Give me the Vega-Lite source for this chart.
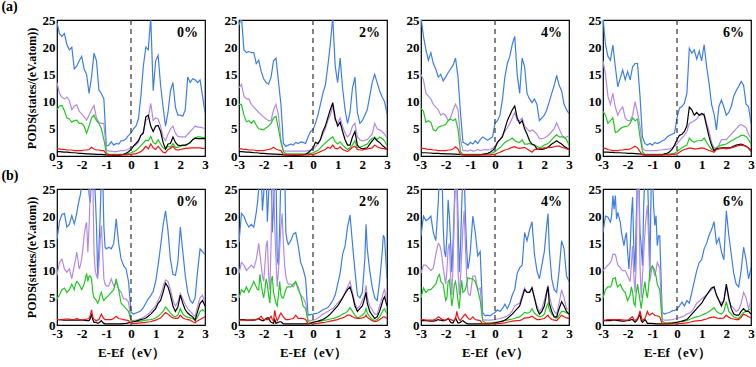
{
"$schema":"https://vega.github.io/schema/vega-lite/v6.json",
"padding":{"left":1,"right":2,"top":0,"bottom":2},
"spacing":-3,
"config":{"font":"Liberation Serif","view":{"stroke":"#000","strokeWidth":1.2},
"axis":{"domain":false,"ticks":false,"grid":false,"labelFont":"Liberation Serif","labelFontWeight":"bold","labelFontSize":13,"labelColor":"#000","labelPadding":2,"labelFlush":false,"labelOverlap":false,"titleFont":"Liberation Serif","titleFontWeight":"bold","titleFontSize":12,"titleColor":"#000"},
"axisY":{"titlePadding":4},"axisX":{"titlePadding":6,"titleFontSize":13}},
"datasets":{"d":[
{"p":"a0","x":-3.0,"b":24.5,"v":13.5,"g":8.5,"k":0.8,"r":1.3},
{"p":"a0","x":-2.9,"b":22.5,"v":11.5,"g":9.2,"k":0.8,"r":1.3},
{"p":"a0","x":-2.8,"b":22.0,"v":10.8,"g":9.3,"k":0.75,"r":1.2},
{"p":"a0","x":-2.7,"b":22.5,"v":10.5,"g":8.3,"k":0.7,"r":1.2},
{"p":"a0","x":-2.6,"b":20.5,"v":10.8,"g":7.0,"k":0.7,"r":1.1},
{"p":"a0","x":-2.5,"b":19.5,"v":10.2,"g":6.8,"k":0.65,"r":1.1},
{"p":"a0","x":-2.4,"b":20.0,"v":8.5,"g":6.2,"k":0.6,"r":1.1},
{"p":"a0","x":-2.3,"b":16.0,"v":9.2,"g":6.5,"k":0.6,"r":1.0},
{"p":"a0","x":-2.2,"b":16.5,"v":9.4,"g":6.6,"k":0.55,"r":1.0},
{"p":"a0","x":-2.1,"b":17.5,"v":8.2,"g":6.0,"k":0.5,"r":1.0},
{"p":"a0","x":-2.0,"b":18.3,"v":7.8,"g":6.0,"k":0.5,"r":1.0},
{"p":"a0","x":-1.9,"b":16.0,"v":7.2,"g":5.5,"k":0.45,"r":1.1},
{"p":"a0","x":-1.8,"b":15.0,"v":6.6,"g":4.2,"k":0.4,"r":1.1},
{"p":"a0","x":-1.7,"b":11.5,"v":7.5,"g":5.5,"k":0.4,"r":1.2},
{"p":"a0","x":-1.6,"b":14.5,"v":8.5,"g":7.0,"k":0.35,"r":1.6},
{"p":"a0","x":-1.5,"b":18.9,"v":9.3,"g":7.5,"k":0.35,"r":1.3},
{"p":"a0","x":-1.4,"b":17.5,"v":7.0,"g":6.5,"k":0.3,"r":1.1},
{"p":"a0","x":-1.3,"b":12.1,"v":6.2,"g":6.0,"k":0.3,"r":1.1},
{"p":"a0","x":-1.2,"b":11.5,"v":6.0,"g":5.0,"k":0.3,"r":1.0},
{"p":"a0","x":-1.1,"b":10.5,"v":6.0,"g":3.0,"k":0.25,"r":1.0},
{"p":"a0","x":-1.0,"b":1.8,"v":1.1,"g":0.6,"k":0.2,"r":0.3},
{"p":"a0","x":-0.9,"b":2.0,"v":0.9,"g":0.3,"k":0.15,"r":0.2},
{"p":"a0","x":-0.8,"b":2.6,"v":0.9,"g":0.3,"k":0.15,"r":0.2},
{"p":"a0","x":-0.7,"b":2.0,"v":0.8,"g":0.3,"k":0.1,"r":0.2},
{"p":"a0","x":-0.6,"b":2.3,"v":0.8,"g":0.3,"k":0.1,"r":0.2},
{"p":"a0","x":-0.5,"b":2.2,"v":0.9,"g":0.3,"k":0.1,"r":0.2},
{"p":"a0","x":-0.4,"b":2.8,"v":1.0,"g":0.3,"k":0.2,"r":0.2},
{"p":"a0","x":-0.3,"b":2.8,"v":1.0,"g":0.3,"k":0.3,"r":0.2},
{"p":"a0","x":-0.2,"b":3.2,"v":1.1,"g":0.4,"k":0.5,"r":0.2},
{"p":"a0","x":-0.1,"b":3.8,"v":1.3,"g":0.5,"k":0.8,"r":0.3},
{"p":"a0","x":0.0,"b":4.2,"v":1.5,"g":0.6,"k":1.2,"r":0.3},
{"p":"a0","x":0.1,"b":5.0,"v":1.8,"g":0.8,"k":1.8,"r":0.4},
{"p":"a0","x":0.2,"b":5.5,"v":2.0,"g":1.0,"k":2.3,"r":0.4},
{"p":"a0","x":0.3,"b":6.8,"v":2.5,"g":1.4,"k":2.8,"r":0.6},
{"p":"a0","x":0.4,"b":11.0,"v":3.8,"g":1.9,"k":3.8,"r":0.8},
{"p":"a0","x":0.5,"b":16.5,"v":4.5,"g":2.4,"k":4.2,"r":1.2},
{"p":"a0","x":0.6,"b":20.0,"v":6.5,"g":2.9,"k":7.2,"r":1.8},
{"p":"a0","x":0.7,"b":19.5,"v":7.0,"g":2.8,"k":7.5,"r":1.3},
{"p":"a0","x":0.8,"b":25.5,"v":9.7,"g":3.6,"k":5.5,"r":2.2},
{"p":"a0","x":0.9,"b":12.0,"v":6.5,"g":2.5,"k":4.5,"r":1.5},
{"p":"a0","x":1.0,"b":17.5,"v":7.0,"g":2.2,"k":5.5,"r":1.2},
{"p":"a0","x":1.1,"b":18.5,"v":6.8,"g":3.0,"k":5.6,"r":1.8},
{"p":"a0","x":1.2,"b":13.0,"v":5.5,"g":2.2,"k":4.5,"r":1.2},
{"p":"a0","x":1.3,"b":9.0,"v":3.5,"g":1.5,"k":2.5,"r":0.7},
{"p":"a0","x":1.4,"b":5.5,"v":2.8,"g":1.2,"k":1.3,"r":0.6},
{"p":"a0","x":1.5,"b":8.0,"v":4.0,"g":1.8,"k":2.2,"r":1.2},
{"p":"a0","x":1.6,"b":12.0,"v":5.0,"g":1.6,"k":2.3,"r":1.4},
{"p":"a0","x":1.7,"b":13.5,"v":5.5,"g":2.3,"k":3.5,"r":1.8},
{"p":"a0","x":1.8,"b":9.0,"v":4.2,"g":1.6,"k":2.5,"r":1.2},
{"p":"a0","x":1.9,"b":7.5,"v":3.6,"g":1.6,"k":2.0,"r":1.1},
{"p":"a0","x":2.0,"b":7.5,"v":3.5,"g":1.8,"k":1.9,"r":1.2},
{"p":"a0","x":2.1,"b":7.3,"v":3.5,"g":1.9,"k":2.0,"r":1.3},
{"p":"a0","x":2.2,"b":8.5,"v":3.5,"g":1.9,"k":2.0,"r":1.4},
{"p":"a0","x":2.3,"b":14.5,"v":4.0,"g":2.2,"k":2.2,"r":1.4},
{"p":"a0","x":2.4,"b":13.5,"v":4.5,"g":2.4,"k":2.5,"r":1.5},
{"p":"a0","x":2.5,"b":14.2,"v":5.0,"g":3.0,"k":3.0,"r":1.5},
{"p":"a0","x":2.6,"b":14.0,"v":5.5,"g":3.3,"k":3.3,"r":1.5},
{"p":"a0","x":2.7,"b":13.5,"v":5.3,"g":3.5,"k":3.2,"r":1.5},
{"p":"a0","x":2.8,"b":14.0,"v":5.3,"g":3.5,"k":3.2,"r":1.5},
{"p":"a0","x":2.9,"b":11.0,"v":5.2,"g":3.4,"k":3.2,"r":1.4},
{"p":"a0","x":3.0,"b":8.0,"v":5.0,"g":3.4,"k":3.2,"r":1.4},
{"p":"a2","x":-3.0,"b":24.0,"v":12.5,"g":9.5,"k":0.8,"r":1.3},
{"p":"a2","x":-2.9,"b":25.5,"v":13.2,"g":9.5,"k":0.8,"r":1.3},
{"p":"a2","x":-2.8,"b":19.5,"v":11.0,"g":7.5,"k":0.75,"r":1.2},
{"p":"a2","x":-2.7,"b":19.0,"v":10.5,"g":6.3,"k":0.7,"r":1.2},
{"p":"a2","x":-2.6,"b":19.2,"v":10.5,"g":6.5,"k":0.7,"r":1.1},
{"p":"a2","x":-2.5,"b":19.0,"v":9.5,"g":6.0,"k":0.65,"r":1.1},
{"p":"a2","x":-2.4,"b":19.0,"v":9.0,"g":6.5,"k":0.6,"r":1.1},
{"p":"a2","x":-2.3,"b":17.0,"v":8.5,"g":5.7,"k":0.6,"r":1.0},
{"p":"a2","x":-2.2,"b":17.6,"v":8.0,"g":5.0,"k":0.55,"r":1.0},
{"p":"a2","x":-2.1,"b":15.5,"v":7.6,"g":4.9,"k":0.5,"r":1.0},
{"p":"a2","x":-2.0,"b":14.2,"v":7.2,"g":4.8,"k":0.5,"r":1.0},
{"p":"a2","x":-1.9,"b":13.5,"v":6.8,"g":5.2,"k":0.45,"r":1.1},
{"p":"a2","x":-1.8,"b":13.2,"v":6.5,"g":5.5,"k":0.4,"r":1.2},
{"p":"a2","x":-1.7,"b":14.5,"v":6.5,"g":6.0,"k":0.4,"r":1.3},
{"p":"a2","x":-1.6,"b":17.5,"v":8.5,"g":7.0,"k":0.35,"r":1.6},
{"p":"a2","x":-1.5,"b":18.0,"v":9.5,"g":7.3,"k":0.35,"r":1.3},
{"p":"a2","x":-1.4,"b":13.7,"v":7.5,"g":5.0,"k":0.3,"r":1.1},
{"p":"a2","x":-1.3,"b":9.5,"v":3.0,"g":2.5,"k":0.3,"r":1.0},
{"p":"a2","x":-1.2,"b":2.3,"v":1.0,"g":0.8,"k":0.2,"r":0.3},
{"p":"a2","x":-1.1,"b":1.8,"v":0.9,"g":0.4,"k":0.2,"r":0.2},
{"p":"a2","x":-1.0,"b":2.0,"v":0.9,"g":0.4,"k":0.15,"r":0.2},
{"p":"a2","x":-0.9,"b":2.2,"v":0.9,"g":0.4,"k":0.15,"r":0.2},
{"p":"a2","x":-0.8,"b":2.0,"v":0.9,"g":0.4,"k":0.1,"r":0.2},
{"p":"a2","x":-0.7,"b":2.5,"v":0.9,"g":0.4,"k":0.1,"r":0.2},
{"p":"a2","x":-0.6,"b":2.3,"v":0.9,"g":0.4,"k":0.1,"r":0.2},
{"p":"a2","x":-0.5,"b":2.6,"v":0.9,"g":0.4,"k":0.15,"r":0.2},
{"p":"a2","x":-0.4,"b":2.5,"v":0.9,"g":0.4,"k":0.2,"r":0.2},
{"p":"a2","x":-0.3,"b":2.3,"v":0.9,"g":0.4,"k":0.3,"r":0.2},
{"p":"a2","x":-0.2,"b":3.5,"v":1.0,"g":0.5,"k":0.6,"r":0.2},
{"p":"a2","x":-0.1,"b":4.5,"v":1.1,"g":0.5,"k":1.0,"r":0.3},
{"p":"a2","x":0.0,"b":4.8,"v":1.2,"g":0.6,"k":1.5,"r":0.3},
{"p":"a2","x":0.1,"b":6.0,"v":1.7,"g":0.8,"k":2.5,"r":0.4},
{"p":"a2","x":0.2,"b":7.5,"v":2.2,"g":1.0,"k":2.3,"r":0.6},
{"p":"a2","x":0.3,"b":9.5,"v":3.0,"g":1.5,"k":3.0,"r":0.8},
{"p":"a2","x":0.4,"b":11.5,"v":4.0,"g":2.0,"k":4.5,"r":1.0},
{"p":"a2","x":0.5,"b":13.0,"v":5.0,"g":2.4,"k":5.5,"r":1.2},
{"p":"a2","x":0.6,"b":16.5,"v":6.5,"g":2.8,"k":7.0,"r":1.6},
{"p":"a2","x":0.7,"b":20.5,"v":7.5,"g":3.2,"k":8.5,"r":1.4},
{"p":"a2","x":0.8,"b":25.5,"v":9.2,"g":3.5,"k":9.8,"r":2.0},
{"p":"a2","x":0.9,"b":16.5,"v":6.5,"g":2.6,"k":7.0,"r":1.4},
{"p":"a2","x":1.0,"b":13.5,"v":6.0,"g":2.2,"k":5.5,"r":1.3},
{"p":"a2","x":1.1,"b":18.0,"v":7.0,"g":2.6,"k":6.2,"r":1.7},
{"p":"a2","x":1.2,"b":12.5,"v":5.5,"g":2.0,"k":4.5,"r":1.2},
{"p":"a2","x":1.3,"b":8.5,"v":4.2,"g":1.6,"k":3.0,"r":1.0},
{"p":"a2","x":1.4,"b":6.0,"v":3.5,"g":1.2,"k":2.0,"r":0.8},
{"p":"a2","x":1.5,"b":8.0,"v":4.0,"g":1.5,"k":2.0,"r":1.2},
{"p":"a2","x":1.6,"b":12.5,"v":5.5,"g":2.0,"k":3.5,"r":1.6},
{"p":"a2","x":1.7,"b":14.5,"v":6.0,"g":2.8,"k":4.5,"r":1.8},
{"p":"a2","x":1.8,"b":8.0,"v":3.5,"g":1.5,"k":2.0,"r":1.2},
{"p":"a2","x":1.9,"b":6.0,"v":3.0,"g":1.6,"k":1.5,"r":1.1},
{"p":"a2","x":2.0,"b":6.5,"v":2.8,"g":1.8,"k":1.3,"r":1.1},
{"p":"a2","x":2.1,"b":7.5,"v":2.9,"g":2.0,"k":1.4,"r":1.2},
{"p":"a2","x":2.2,"b":8.5,"v":3.0,"g":2.2,"k":1.5,"r":1.3},
{"p":"a2","x":2.3,"b":11.0,"v":3.5,"g":2.8,"k":2.2,"r":1.4},
{"p":"a2","x":2.4,"b":13.5,"v":4.0,"g":3.2,"k":2.8,"r":1.5},
{"p":"a2","x":2.5,"b":15.0,"v":6.0,"g":3.5,"k":3.3,"r":2.0},
{"p":"a2","x":2.6,"b":13.5,"v":5.0,"g":3.0,"k":2.8,"r":1.7},
{"p":"a2","x":2.7,"b":12.0,"v":4.8,"g":3.5,"k":2.5,"r":1.5},
{"p":"a2","x":2.8,"b":10.9,"v":4.5,"g":3.2,"k":2.0,"r":1.4},
{"p":"a2","x":2.9,"b":10.0,"v":4.0,"g":2.8,"k":1.6,"r":1.3},
{"p":"a2","x":3.0,"b":7.8,"v":3.3,"g":2.0,"k":1.2,"r":1.2},
{"p":"a4","x":-3.0,"b":25.5,"v":15.0,"g":8.8,"k":0.6,"r":1.4},
{"p":"a4","x":-2.9,"b":22.0,"v":14.0,"g":8.2,"k":0.6,"r":1.4},
{"p":"a4","x":-2.8,"b":19.5,"v":11.5,"g":6.2,"k":0.6,"r":1.3},
{"p":"a4","x":-2.7,"b":17.6,"v":11.0,"g":6.5,"k":0.55,"r":1.2},
{"p":"a4","x":-2.6,"b":19.0,"v":10.5,"g":6.2,"k":0.55,"r":1.2},
{"p":"a4","x":-2.5,"b":17.0,"v":9.5,"g":4.8,"k":0.5,"r":1.1},
{"p":"a4","x":-2.4,"b":16.0,"v":9.0,"g":4.6,"k":0.5,"r":1.1},
{"p":"a4","x":-2.3,"b":14.5,"v":8.5,"g":5.3,"k":0.5,"r":1.0},
{"p":"a4","x":-2.2,"b":15.0,"v":7.5,"g":5.5,"k":0.45,"r":1.0},
{"p":"a4","x":-2.1,"b":13.8,"v":7.8,"g":5.6,"k":0.45,"r":1.0},
{"p":"a4","x":-2.0,"b":14.5,"v":7.5,"g":5.8,"k":0.4,"r":1.0},
{"p":"a4","x":-1.9,"b":15.3,"v":6.5,"g":6.5,"k":0.4,"r":1.1},
{"p":"a4","x":-1.8,"b":16.0,"v":7.0,"g":6.8,"k":0.4,"r":1.1},
{"p":"a4","x":-1.7,"b":16.7,"v":8.5,"g":6.5,"k":0.35,"r":1.3},
{"p":"a4","x":-1.6,"b":18.0,"v":9.5,"g":6.8,"k":0.35,"r":1.7},
{"p":"a4","x":-1.5,"b":14.5,"v":8.5,"g":5.0,"k":0.3,"r":1.3},
{"p":"a4","x":-1.4,"b":8.0,"v":3.0,"g":0.8,"k":0.3,"r":0.3},
{"p":"a4","x":-1.3,"b":2.5,"v":1.0,"g":0.3,"k":0.25,"r":0.2},
{"p":"a4","x":-1.2,"b":2.3,"v":1.0,"g":0.3,"k":0.2,"r":0.2},
{"p":"a4","x":-1.1,"b":2.0,"v":0.9,"g":0.3,"k":0.2,"r":0.2},
{"p":"a4","x":-1.0,"b":2.5,"v":1.1,"g":0.3,"k":0.2,"r":0.2},
{"p":"a4","x":-0.9,"b":2.2,"v":0.9,"g":0.3,"k":0.2,"r":0.2},
{"p":"a4","x":-0.8,"b":2.8,"v":1.0,"g":0.3,"k":0.2,"r":0.2},
{"p":"a4","x":-0.7,"b":2.3,"v":1.2,"g":0.3,"k":0.2,"r":0.2},
{"p":"a4","x":-0.6,"b":3.0,"v":1.0,"g":0.3,"k":0.2,"r":0.2},
{"p":"a4","x":-0.5,"b":3.5,"v":1.1,"g":0.3,"k":0.3,"r":0.2},
{"p":"a4","x":-0.4,"b":3.2,"v":1.2,"g":0.3,"k":0.4,"r":0.2},
{"p":"a4","x":-0.3,"b":2.9,"v":1.1,"g":0.4,"k":0.5,"r":0.2},
{"p":"a4","x":-0.2,"b":3.2,"v":1.2,"g":0.5,"k":0.7,"r":0.2},
{"p":"a4","x":-0.1,"b":3.5,"v":1.4,"g":0.6,"k":1.0,"r":0.3},
{"p":"a4","x":0.0,"b":6.0,"v":1.8,"g":0.8,"k":1.5,"r":0.3},
{"p":"a4","x":0.1,"b":6.5,"v":2.5,"g":1.2,"k":2.5,"r":0.5},
{"p":"a4","x":0.2,"b":7.5,"v":3.0,"g":1.5,"k":3.0,"r":0.7},
{"p":"a4","x":0.3,"b":10.3,"v":3.8,"g":2.0,"k":3.5,"r":0.9},
{"p":"a4","x":0.4,"b":14.5,"v":4.5,"g":2.5,"k":5.0,"r":1.1},
{"p":"a4","x":0.5,"b":17.0,"v":5.2,"g":2.8,"k":6.5,"r":1.2},
{"p":"a4","x":0.6,"b":18.3,"v":6.0,"g":3.0,"k":7.5,"r":1.4},
{"p":"a4","x":0.7,"b":20.5,"v":7.0,"g":3.3,"k":8.5,"r":1.6},
{"p":"a4","x":0.8,"b":22.0,"v":8.0,"g":2.8,"k":9.2,"r":1.7},
{"p":"a4","x":0.9,"b":15.0,"v":6.5,"g":2.6,"k":7.0,"r":1.5},
{"p":"a4","x":1.0,"b":11.5,"v":6.5,"g":2.5,"k":6.0,"r":1.4},
{"p":"a4","x":1.1,"b":18.0,"v":7.0,"g":3.0,"k":6.5,"r":1.5},
{"p":"a4","x":1.2,"b":16.4,"v":5.5,"g":2.2,"k":5.0,"r":1.6},
{"p":"a4","x":1.3,"b":11.5,"v":5.0,"g":2.2,"k":4.0,"r":1.3},
{"p":"a4","x":1.4,"b":10.5,"v":4.5,"g":2.3,"k":2.8,"r":1.0},
{"p":"a4","x":1.5,"b":9.8,"v":4.8,"g":2.1,"k":2.2,"r":0.7},
{"p":"a4","x":1.6,"b":10.5,"v":4.5,"g":2.0,"k":2.0,"r":1.2},
{"p":"a4","x":1.7,"b":9.5,"v":4.0,"g":1.8,"k":1.3,"r":1.2},
{"p":"a4","x":1.8,"b":6.5,"v":3.2,"g":1.5,"k":1.2,"r":1.3},
{"p":"a4","x":1.9,"b":7.0,"v":3.2,"g":1.7,"k":1.2,"r":1.4},
{"p":"a4","x":2.0,"b":7.5,"v":3.3,"g":2.0,"k":1.3,"r":1.5},
{"p":"a4","x":2.1,"b":8.5,"v":3.6,"g":2.2,"k":1.5,"r":1.5},
{"p":"a4","x":2.2,"b":10.0,"v":4.0,"g":2.5,"k":1.8,"r":1.6},
{"p":"a4","x":2.3,"b":11.5,"v":4.5,"g":3.0,"k":2.2,"r":1.6},
{"p":"a4","x":2.4,"b":13.0,"v":5.0,"g":3.5,"k":2.5,"r":1.7},
{"p":"a4","x":2.5,"b":14.8,"v":6.1,"g":3.9,"k":2.8,"r":1.8},
{"p":"a4","x":2.6,"b":13.0,"v":5.0,"g":3.5,"k":2.5,"r":1.8},
{"p":"a4","x":2.7,"b":12.0,"v":4.0,"g":3.5,"k":2.2,"r":1.6},
{"p":"a4","x":2.8,"b":9.5,"v":3.3,"g":3.5,"k":1.8,"r":1.5},
{"p":"a4","x":2.9,"b":8.5,"v":3.5,"g":3.0,"k":1.5,"r":1.3},
{"p":"a4","x":3.0,"b":7.8,"v":3.7,"g":2.0,"k":1.2,"r":1.2},
{"p":"a6","x":-3.0,"b":25.5,"v":17.5,"g":8.2,"k":0.7,"r":1.5},
{"p":"a6","x":-2.9,"b":20.5,"v":15.0,"g":7.5,"k":0.7,"r":1.4},
{"p":"a6","x":-2.8,"b":18.3,"v":11.0,"g":6.0,"k":0.7,"r":1.2},
{"p":"a6","x":-2.7,"b":17.6,"v":9.5,"g":6.5,"k":0.65,"r":1.1},
{"p":"a6","x":-2.6,"b":20.4,"v":11.5,"g":7.0,"k":0.65,"r":1.0},
{"p":"a6","x":-2.5,"b":16.4,"v":9.0,"g":4.3,"k":0.6,"r":1.0},
{"p":"a6","x":-2.4,"b":12.7,"v":7.5,"g":4.5,"k":0.6,"r":1.0},
{"p":"a6","x":-2.3,"b":14.3,"v":8.5,"g":5.0,"k":0.6,"r":1.1},
{"p":"a6","x":-2.2,"b":15.8,"v":9.0,"g":5.3,"k":0.55,"r":1.1},
{"p":"a6","x":-2.1,"b":14.0,"v":7.0,"g":5.4,"k":0.55,"r":1.2},
{"p":"a6","x":-2.0,"b":15.5,"v":6.5,"g":5.5,"k":0.5,"r":1.2},
{"p":"a6","x":-1.9,"b":14.0,"v":6.5,"g":6.0,"k":0.5,"r":1.3},
{"p":"a6","x":-1.8,"b":16.4,"v":7.5,"g":7.0,"k":0.5,"r":1.5},
{"p":"a6","x":-1.7,"b":17.0,"v":10.0,"g":6.5,"k":0.45,"r":1.8},
{"p":"a6","x":-1.6,"b":17.0,"v":8.0,"g":6.8,"k":0.4,"r":1.5},
{"p":"a6","x":-1.5,"b":11.0,"v":5.5,"g":3.5,"k":0.4,"r":0.8},
{"p":"a6","x":-1.4,"b":3.5,"v":1.5,"g":0.8,"k":0.3,"r":0.2},
{"p":"a6","x":-1.3,"b":2.3,"v":1.0,"g":0.3,"k":0.2,"r":0.2},
{"p":"a6","x":-1.2,"b":2.0,"v":1.0,"g":0.3,"k":0.2,"r":0.2},
{"p":"a6","x":-1.1,"b":2.3,"v":1.0,"g":0.3,"k":0.2,"r":0.2},
{"p":"a6","x":-1.0,"b":2.0,"v":1.0,"g":0.3,"k":0.2,"r":0.2},
{"p":"a6","x":-0.9,"b":2.5,"v":1.0,"g":0.3,"k":0.2,"r":0.2},
{"p":"a6","x":-0.8,"b":2.3,"v":1.0,"g":0.3,"k":0.2,"r":0.2},
{"p":"a6","x":-0.7,"b":2.5,"v":1.1,"g":0.3,"k":0.2,"r":0.2},
{"p":"a6","x":-0.6,"b":2.8,"v":1.1,"g":0.3,"k":0.2,"r":0.2},
{"p":"a6","x":-0.5,"b":3.0,"v":1.2,"g":0.3,"k":0.4,"r":0.2},
{"p":"a6","x":-0.4,"b":3.5,"v":1.2,"g":0.3,"k":0.5,"r":0.2},
{"p":"a6","x":-0.3,"b":3.8,"v":1.3,"g":0.4,"k":0.8,"r":0.2},
{"p":"a6","x":-0.2,"b":4.0,"v":1.5,"g":0.4,"k":1.2,"r":0.3},
{"p":"a6","x":-0.1,"b":4.2,"v":1.8,"g":0.5,"k":2.0,"r":0.3},
{"p":"a6","x":0.0,"b":7.0,"v":2.2,"g":0.8,"k":3.0,"r":0.4},
{"p":"a6","x":0.1,"b":8.8,"v":2.8,"g":1.2,"k":3.8,"r":0.7},
{"p":"a6","x":0.2,"b":9.1,"v":3.3,"g":1.5,"k":4.0,"r":1.0},
{"p":"a6","x":0.3,"b":9.7,"v":3.8,"g":1.8,"k":4.5,"r":1.2},
{"p":"a6","x":0.4,"b":11.5,"v":4.5,"g":2.0,"k":5.5,"r":1.3},
{"p":"a6","x":0.5,"b":19.8,"v":6.0,"g":3.3,"k":9.0,"r":1.5},
{"p":"a6","x":0.6,"b":18.9,"v":6.2,"g":2.8,"k":8.5,"r":1.4},
{"p":"a6","x":0.7,"b":19.5,"v":6.5,"g":2.5,"k":7.5,"r":1.3},
{"p":"a6","x":0.8,"b":17.8,"v":6.8,"g":2.8,"k":8.0,"r":1.3},
{"p":"a6","x":0.9,"b":19.3,"v":7.5,"g":2.8,"k":7.5,"r":1.4},
{"p":"a6","x":1.0,"b":17.5,"v":7.5,"g":2.8,"k":7.8,"r":1.5},
{"p":"a6","x":1.1,"b":20.5,"v":7.8,"g":3.3,"k":7.5,"r":1.4},
{"p":"a6","x":1.2,"b":16.4,"v":6.0,"g":2.5,"k":5.5,"r":1.2},
{"p":"a6","x":1.3,"b":13.4,"v":4.5,"g":1.8,"k":3.5,"r":1.0},
{"p":"a6","x":1.4,"b":9.5,"v":2.5,"g":1.2,"k":2.0,"r":0.9},
{"p":"a6","x":1.5,"b":7.8,"v":1.5,"g":1.0,"k":1.0,"r":0.7},
{"p":"a6","x":1.6,"b":4.8,"v":1.5,"g":1.5,"k":1.3,"r":1.2},
{"p":"a6","x":1.7,"b":9.1,"v":2.0,"g":1.8,"k":1.4,"r":1.3},
{"p":"a6","x":1.8,"b":10.3,"v":3.0,"g":2.0,"k":1.5,"r":1.4},
{"p":"a6","x":1.9,"b":9.0,"v":3.0,"g":2.1,"k":1.5,"r":1.4},
{"p":"a6","x":2.0,"b":7.5,"v":3.0,"g":2.2,"k":1.5,"r":1.3},
{"p":"a6","x":2.1,"b":8.0,"v":3.5,"g":2.5,"k":1.5,"r":1.4},
{"p":"a6","x":2.2,"b":9.1,"v":4.0,"g":2.8,"k":1.6,"r":1.5},
{"p":"a6","x":2.3,"b":11.0,"v":4.5,"g":3.0,"k":1.8,"r":1.6},
{"p":"a6","x":2.4,"b":12.0,"v":5.0,"g":3.3,"k":2.0,"r":1.8},
{"p":"a6","x":2.5,"b":12.8,"v":5.5,"g":3.5,"k":2.1,"r":1.9},
{"p":"a6","x":2.6,"b":13.7,"v":5.8,"g":3.8,"k":2.2,"r":2.0},
{"p":"a6","x":2.7,"b":13.0,"v":5.5,"g":3.8,"k":2.0,"r":1.9},
{"p":"a6","x":2.8,"b":9.5,"v":5.2,"g":3.6,"k":1.8,"r":1.8},
{"p":"a6","x":2.9,"b":9.1,"v":4.0,"g":3.0,"k":1.5,"r":1.4},
{"p":"a6","x":3.0,"b":6.0,"v":3.2,"g":2.2,"k":1.0,"r":0.8},
{"p":"b0","x":-3.0,"b":15.8,"v":9.1,"g":4.8,"k":1.0,"r":1.0},
{"p":"b0","x":-2.9,"b":19.0,"v":11.5,"g":5.5,"k":1.0,"r":1.0},
{"p":"b0","x":-2.8,"b":20.3,"v":12.1,"g":6.5,"k":0.95,"r":1.0},
{"p":"b0","x":-2.7,"b":20.5,"v":10.3,"g":6.8,"k":0.9,"r":1.1},
{"p":"b0","x":-2.6,"b":18.0,"v":9.7,"g":6.0,"k":0.9,"r":1.1},
{"p":"b0","x":-2.5,"b":18.5,"v":10.3,"g":6.5,"k":0.9,"r":1.1},
{"p":"b0","x":-2.4,"b":20.1,"v":8.5,"g":7.5,"k":0.9,"r":1.0},
{"p":"b0","x":-2.3,"b":18.6,"v":10.9,"g":6.5,"k":0.9,"r":1.0},
{"p":"b0","x":-2.25,"b":19.5,"v":12.0,"g":7.5,"k":0.9,"r":1.1},
{"p":"b0","x":-2.2,"b":20.5,"v":13.4,"g":8.0,"k":0.9,"r":1.2},
{"p":"b0","x":-2.15,"b":21.9,"v":12.0,"g":7.8,"k":0.9,"r":1.1},
{"p":"b0","x":-2.1,"b":23.0,"v":10.3,"g":7.5,"k":0.9,"r":1.0},
{"p":"b0","x":-2.05,"b":24.0,"v":11.0,"g":7.0,"k":0.9,"r":1.0},
{"p":"b0","x":-2.0,"b":25.5,"v":12.1,"g":6.5,"k":0.9,"r":0.9},
{"p":"b0","x":-1.95,"b":28,"v":14.0,"g":7.0,"k":0.9,"r":0.9},
{"p":"b0","x":-1.9,"b":28,"v":16.4,"g":7.5,"k":0.85,"r":1.0},
{"p":"b0","x":-1.85,"b":28,"v":18.0,"g":8.5,"k":0.85,"r":1.0},
{"p":"b0","x":-1.8,"b":28,"v":18.9,"g":9.5,"k":0.8,"r":1.1},
{"p":"b0","x":-1.75,"b":28,"v":13.4,"g":8.0,"k":0.8,"r":1.1},
{"p":"b0","x":-1.7,"b":24.0,"v":18.0,"g":9.0,"k":0.8,"r":1.2},
{"p":"b0","x":-1.65,"b":22.5,"v":25.0,"g":9.0,"k":1.2,"r":1.8},
{"p":"b0","x":-1.6,"b":28,"v":28,"g":8.5,"k":2.0,"r":2.8},
{"p":"b0","x":-1.55,"b":28,"v":28,"g":6.0,"k":1.0,"r":1.5},
{"p":"b0","x":-1.5,"b":28,"v":13.4,"g":5.0,"k":0.5,"r":1.0},
{"p":"b0","x":-1.45,"b":24.0,"v":10.0,"g":4.8,"k":0.5,"r":0.9},
{"p":"b0","x":-1.4,"b":18.3,"v":9.1,"g":4.5,"k":0.5,"r":0.8},
{"p":"b0","x":-1.35,"b":9.1,"v":8.5,"g":4.0,"k":0.3,"r":0.9},
{"p":"b0","x":-1.3,"b":14.0,"v":11.0,"g":4.5,"k":0.4,"r":1.0},
{"p":"b0","x":-1.25,"b":20.0,"v":15.5,"g":5.5,"k":0.6,"r":1.5},
{"p":"b0","x":-1.2,"b":28,"v":18.3,"g":6.0,"k":0.8,"r":2.0},
{"p":"b0","x":-1.15,"b":28,"v":13.4,"g":5.0,"k":0.5,"r":1.5},
{"p":"b0","x":-1.1,"b":18.0,"v":8.5,"g":4.5,"k":0.3,"r":1.2},
{"p":"b0","x":-1.05,"b":14.3,"v":7.5,"g":4.8,"k":0.2,"r":1.0},
{"p":"b0","x":-1.0,"b":14.0,"v":7.2,"g":5.0,"k":0.2,"r":1.0},
{"p":"b0","x":-0.9,"b":14.3,"v":7.2,"g":5.5,"k":0.2,"r":1.0},
{"p":"b0","x":-0.8,"b":14.0,"v":8.5,"g":6.0,"k":0.2,"r":1.0},
{"p":"b0","x":-0.7,"b":15.0,"v":7.2,"g":6.5,"k":0.2,"r":1.2},
{"p":"b0","x":-0.6,"b":19.5,"v":7.8,"g":8.5,"k":0.2,"r":1.6},
{"p":"b0","x":-0.5,"b":15.0,"v":6.6,"g":6.5,"k":0.2,"r":1.2},
{"p":"b0","x":-0.4,"b":12.1,"v":6.0,"g":4.0,"k":0.2,"r":1.1},
{"p":"b0","x":-0.3,"b":10.9,"v":4.8,"g":3.5,"k":0.25,"r":1.0},
{"p":"b0","x":-0.2,"b":10.3,"v":4.8,"g":3.0,"k":0.3,"r":0.9},
{"p":"b0","x":-0.1,"b":8.0,"v":4.2,"g":2.5,"k":0.4,"r":0.8},
{"p":"b0","x":0.0,"b":2.3,"v":0.8,"g":0.8,"k":0.5,"r":0.3},
{"p":"b0","x":0.1,"b":2.0,"v":0.85,"g":0.7,"k":0.6,"r":0.3},
{"p":"b0","x":0.2,"b":2.2,"v":0.9,"g":0.6,"k":0.7,"r":0.3},
{"p":"b0","x":0.3,"b":2.4,"v":1.0,"g":0.65,"k":0.85,"r":0.35},
{"p":"b0","x":0.4,"b":2.6,"v":1.2,"g":0.7,"k":1.0,"r":0.4},
{"p":"b0","x":0.5,"b":3.2,"v":1.4,"g":0.8,"k":1.1,"r":0.45},
{"p":"b0","x":0.6,"b":4.0,"v":1.7,"g":0.9,"k":1.3,"r":0.5},
{"p":"b0","x":0.7,"b":4.8,"v":2.0,"g":0.95,"k":1.6,"r":0.55},
{"p":"b0","x":0.8,"b":5.4,"v":2.5,"g":1.0,"k":2.0,"r":0.6},
{"p":"b0","x":0.9,"b":6.2,"v":3.0,"g":1.1,"k":2.5,"r":0.75},
{"p":"b0","x":1.0,"b":8.0,"v":3.5,"g":1.3,"k":3.0,"r":0.9},
{"p":"b0","x":1.1,"b":11.0,"v":4.5,"g":1.6,"k":4.0,"r":1.1},
{"p":"b0","x":1.2,"b":14.5,"v":5.5,"g":2.0,"k":4.5,"r":1.3},
{"p":"b0","x":1.3,"b":18.3,"v":7.0,"g":2.5,"k":6.0,"r":1.8},
{"p":"b0","x":1.4,"b":21.0,"v":8.3,"g":3.3,"k":7.7,"r":2.3},
{"p":"b0","x":1.5,"b":17.3,"v":8.0,"g":2.8,"k":7.0,"r":2.0},
{"p":"b0","x":1.6,"b":12.0,"v":6.5,"g":2.2,"k":5.5,"r":1.6},
{"p":"b0","x":1.7,"b":9.3,"v":4.5,"g":1.7,"k":3.5,"r":1.3},
{"p":"b0","x":1.8,"b":9.1,"v":3.5,"g":1.5,"k":2.5,"r":1.2},
{"p":"b0","x":1.9,"b":11.5,"v":4.2,"g":1.8,"k":3.3,"r":1.2},
{"p":"b0","x":2.0,"b":18.0,"v":5.8,"g":3.0,"k":5.5,"r":1.8},
{"p":"b0","x":2.1,"b":13.5,"v":4.8,"g":2.0,"k":4.0,"r":1.3},
{"p":"b0","x":2.2,"b":9.1,"v":3.8,"g":1.6,"k":2.8,"r":1.1},
{"p":"b0","x":2.3,"b":6.0,"v":3.0,"g":1.4,"k":2.2,"r":1.0},
{"p":"b0","x":2.4,"b":4.5,"v":2.5,"g":1.3,"k":1.8,"r":0.9},
{"p":"b0","x":2.5,"b":4.0,"v":2.0,"g":1.2,"k":1.5,"r":0.6},
{"p":"b0","x":2.6,"b":5.0,"v":1.5,"g":0.8,"k":0.9,"r":0.4},
{"p":"b0","x":2.7,"b":10.0,"v":3.5,"g":1.5,"k":2.5,"r":0.8},
{"p":"b0","x":2.8,"b":14.0,"v":5.0,"g":2.5,"k":4.0,"r":1.0},
{"p":"b0","x":2.9,"b":13.5,"v":5.5,"g":2.8,"k":4.5,"r":1.3},
{"p":"b0","x":3.0,"b":13.0,"v":4.0,"g":2.5,"k":3.5,"r":1.5},
{"p":"b2","x":-3.0,"b":15.2,"v":9.5,"g":5.0,"k":1.0,"r":0.9},
{"p":"b2","x":-2.9,"b":20.5,"v":11.5,"g":6.5,"k":1.0,"r":0.9},
{"p":"b2","x":-2.8,"b":20.0,"v":11.0,"g":6.0,"k":1.0,"r":0.9},
{"p":"b2","x":-2.7,"b":18.8,"v":10.0,"g":7.0,"k":0.9,"r":0.9},
{"p":"b2","x":-2.6,"b":18.0,"v":10.5,"g":6.0,"k":0.9,"r":0.9},
{"p":"b2","x":-2.5,"b":18.5,"v":11.0,"g":7.0,"k":0.9,"r":0.9},
{"p":"b2","x":-2.4,"b":18.0,"v":10.5,"g":8.0,"k":0.9,"r":1.0},
{"p":"b2","x":-2.3,"b":20.7,"v":12.0,"g":7.0,"k":1.0,"r":1.0},
{"p":"b2","x":-2.25,"b":22.5,"v":13.5,"g":6.5,"k":1.1,"r":1.1},
{"p":"b2","x":-2.2,"b":25.0,"v":15.0,"g":6.5,"k":1.2,"r":1.1},
{"p":"b2","x":-2.15,"b":28,"v":13.0,"g":9.3,"k":1.0,"r":1.4},
{"p":"b2","x":-2.1,"b":28,"v":11.0,"g":7.5,"k":0.9,"r":1.6},
{"p":"b2","x":-2.05,"b":21.0,"v":9.0,"g":6.0,"k":0.8,"r":1.2},
{"p":"b2","x":-2.0,"b":24.0,"v":8.0,"g":5.0,"k":0.8,"r":1.0},
{"p":"b2","x":-1.95,"b":28,"v":11.0,"g":6.5,"k":1.0,"r":1.0},
{"p":"b2","x":-1.9,"b":28,"v":14.5,"g":8.5,"k":1.2,"r":1.0},
{"p":"b2","x":-1.85,"b":19.0,"v":15.5,"g":7.5,"k":1.3,"r":1.0},
{"p":"b2","x":-1.8,"b":24.0,"v":9.0,"g":5.5,"k":1.3,"r":1.0},
{"p":"b2","x":-1.75,"b":28,"v":6.5,"g":4.0,"k":0.8,"r":1.3},
{"p":"b2","x":-1.7,"b":28,"v":15.0,"g":8.0,"k":0.5,"r":1.6},
{"p":"b2","x":-1.65,"b":17.0,"v":28,"g":9.0,"k":0.4,"r":1.0},
{"p":"b2","x":-1.6,"b":22.0,"v":28,"g":6.0,"k":0.3,"r":0.7},
{"p":"b2","x":-1.55,"b":28,"v":18.0,"g":5.0,"k":1.0,"r":2.7},
{"p":"b2","x":-1.5,"b":28,"v":12.0,"g":4.0,"k":0.3,"r":1.5},
{"p":"b2","x":-1.45,"b":12.0,"v":7.0,"g":3.5,"k":0.4,"r":0.8},
{"p":"b2","x":-1.4,"b":11.0,"v":10.0,"g":5.5,"k":0.5,"r":1.2},
{"p":"b2","x":-1.35,"b":18.3,"v":14.0,"g":8.0,"k":0.6,"r":1.8},
{"p":"b2","x":-1.3,"b":28,"v":18.0,"g":5.5,"k":0.6,"r":2.2},
{"p":"b2","x":-1.25,"b":28,"v":20.5,"g":5.0,"k":0.4,"r":1.8},
{"p":"b2","x":-1.2,"b":28,"v":15.0,"g":5.0,"k":0.2,"r":1.5},
{"p":"b2","x":-1.15,"b":28,"v":11.0,"g":5.8,"k":0.2,"r":1.2},
{"p":"b2","x":-1.1,"b":17.0,"v":9.0,"g":6.5,"k":0.2,"r":1.0},
{"p":"b2","x":-1.05,"b":15.5,"v":8.0,"g":7.0,"k":0.2,"r":1.0},
{"p":"b2","x":-1.0,"b":14.8,"v":7.5,"g":7.0,"k":0.2,"r":1.0},
{"p":"b2","x":-0.9,"b":15.5,"v":7.5,"g":7.0,"k":0.2,"r":1.1},
{"p":"b2","x":-0.8,"b":16.7,"v":7.0,"g":7.5,"k":0.2,"r":1.2},
{"p":"b2","x":-0.7,"b":17.0,"v":7.8,"g":8.0,"k":0.2,"r":1.8},
{"p":"b2","x":-0.6,"b":14.6,"v":7.0,"g":6.5,"k":0.2,"r":1.2},
{"p":"b2","x":-0.5,"b":11.5,"v":5.5,"g":5.5,"k":0.2,"r":1.2},
{"p":"b2","x":-0.4,"b":10.3,"v":5.0,"g":3.5,"k":0.2,"r":1.2},
{"p":"b2","x":-0.3,"b":8.5,"v":4.0,"g":3.0,"k":0.2,"r":1.0},
{"p":"b2","x":-0.2,"b":1.8,"v":0.8,"g":0.6,"k":0.2,"r":0.2},
{"p":"b2","x":-0.1,"b":1.9,"v":0.85,"g":0.5,"k":0.3,"r":0.2},
{"p":"b2","x":0.0,"b":2.0,"v":0.9,"g":0.5,"k":0.5,"r":0.2},
{"p":"b2","x":0.1,"b":2.1,"v":1.0,"g":0.55,"k":0.6,"r":0.25},
{"p":"b2","x":0.2,"b":2.2,"v":1.3,"g":0.6,"k":0.7,"r":0.3},
{"p":"b2","x":0.3,"b":2.5,"v":1.6,"g":0.7,"k":0.85,"r":0.4},
{"p":"b2","x":0.4,"b":2.8,"v":2.0,"g":0.8,"k":1.0,"r":0.45},
{"p":"b2","x":0.5,"b":3.0,"v":2.2,"g":0.9,"k":1.3,"r":0.5},
{"p":"b2","x":0.6,"b":3.2,"v":2.5,"g":1.0,"k":1.6,"r":0.6},
{"p":"b2","x":0.7,"b":3.8,"v":2.8,"g":1.1,"k":2.0,"r":0.7},
{"p":"b2","x":0.8,"b":4.5,"v":3.0,"g":1.2,"k":2.5,"r":0.8},
{"p":"b2","x":0.9,"b":5.5,"v":3.5,"g":1.3,"k":3.0,"r":0.9},
{"p":"b2","x":1.0,"b":7.5,"v":4.0,"g":1.5,"k":3.5,"r":1.0},
{"p":"b2","x":1.1,"b":9.5,"v":4.5,"g":1.7,"k":4.2,"r":1.2},
{"p":"b2","x":1.2,"b":13.0,"v":5.0,"g":2.0,"k":5.0,"r":1.3},
{"p":"b2","x":1.3,"b":14.5,"v":6.0,"g":2.2,"k":5.8,"r":1.5},
{"p":"b2","x":1.4,"b":18.0,"v":7.0,"g":2.5,"k":6.5,"r":1.8},
{"p":"b2","x":1.5,"b":20.2,"v":8.0,"g":3.2,"k":7.0,"r":1.8},
{"p":"b2","x":1.6,"b":15.0,"v":6.0,"g":2.5,"k":5.5,"r":1.5},
{"p":"b2","x":1.7,"b":10.0,"v":4.0,"g":1.8,"k":3.5,"r":1.3},
{"p":"b2","x":1.8,"b":5.5,"v":3.0,"g":1.3,"k":2.5,"r":1.2},
{"p":"b2","x":1.9,"b":5.0,"v":3.5,"g":1.5,"k":3.0,"r":1.2},
{"p":"b2","x":2.0,"b":6.0,"v":4.5,"g":1.8,"k":3.5,"r":1.3},
{"p":"b2","x":2.1,"b":12.0,"v":5.5,"g":2.3,"k":5.0,"r":1.5},
{"p":"b2","x":2.15,"b":18.5,"v":7.3,"g":3.0,"k":6.0,"r":1.8},
{"p":"b2","x":2.2,"b":14.0,"v":5.0,"g":2.2,"k":4.0,"r":1.4},
{"p":"b2","x":2.3,"b":10.0,"v":3.5,"g":1.5,"k":2.5,"r":1.1},
{"p":"b2","x":2.4,"b":7.0,"v":2.8,"g":1.1,"k":1.8,"r":0.8},
{"p":"b2","x":2.5,"b":5.0,"v":2.0,"g":0.8,"k":1.2,"r":0.6},
{"p":"b2","x":2.6,"b":4.5,"v":2.0,"g":1.0,"k":1.5,"r":0.7},
{"p":"b2","x":2.7,"b":8.0,"v":3.5,"g":1.5,"k":2.5,"r":1.0},
{"p":"b2","x":2.8,"b":13.0,"v":5.0,"g":2.3,"k":4.0,"r":1.3},
{"p":"b2","x":2.85,"b":16.5,"v":6.0,"g":2.8,"k":4.8,"r":1.5},
{"p":"b2","x":2.9,"b":16.0,"v":6.5,"g":3.0,"k":5.2,"r":1.5},
{"p":"b2","x":3.0,"b":8.5,"v":4.0,"g":2.0,"k":3.5,"r":1.2},
{"p":"b4","x":-3.0,"b":16.4,"v":9.5,"g":5.0,"k":0.8,"r":1.0},
{"p":"b4","x":-2.9,"b":20.0,"v":11.0,"g":6.8,"k":0.8,"r":1.0},
{"p":"b4","x":-2.8,"b":19.2,"v":11.0,"g":6.0,"k":0.8,"r":0.9},
{"p":"b4","x":-2.7,"b":19.5,"v":10.5,"g":6.5,"k":0.75,"r":0.9},
{"p":"b4","x":-2.6,"b":20.0,"v":10.0,"g":6.5,"k":0.7,"r":0.9},
{"p":"b4","x":-2.5,"b":17.0,"v":10.5,"g":7.0,"k":0.7,"r":0.9},
{"p":"b4","x":-2.4,"b":15.5,"v":13.0,"g":7.5,"k":0.8,"r":1.1},
{"p":"b4","x":-2.3,"b":22.5,"v":15.0,"g":9.0,"k":1.0,"r":1.5},
{"p":"b4","x":-2.25,"b":28,"v":14.8,"g":9.3,"k":0.9,"r":1.4},
{"p":"b4","x":-2.2,"b":28,"v":14.0,"g":8.0,"k":0.9,"r":1.2},
{"p":"b4","x":-2.15,"b":28,"v":12.5,"g":7.8,"k":0.8,"r":1.0},
{"p":"b4","x":-2.1,"b":18.0,"v":10.5,"g":7.5,"k":0.8,"r":1.0},
{"p":"b4","x":-2.05,"b":13.5,"v":9.0,"g":6.0,"k":0.8,"r":0.9},
{"p":"b4","x":-2.0,"b":12.5,"v":7.5,"g":4.5,"k":0.9,"r":0.9},
{"p":"b4","x":-1.95,"b":16.4,"v":10.0,"g":5.0,"k":1.0,"r":1.0},
{"p":"b4","x":-1.9,"b":23.0,"v":14.0,"g":8.0,"k":1.2,"r":1.2},
{"p":"b4","x":-1.85,"b":20.0,"v":15.0,"g":8.3,"k":0.9,"r":1.1},
{"p":"b4","x":-1.8,"b":15.2,"v":9.0,"g":6.0,"k":0.5,"r":1.0},
{"p":"b4","x":-1.75,"b":9.7,"v":5.5,"g":3.5,"k":0.4,"r":0.9},
{"p":"b4","x":-1.7,"b":15.0,"v":11.0,"g":5.0,"k":0.4,"r":0.8},
{"p":"b4","x":-1.65,"b":22.0,"v":20.0,"g":7.5,"k":0.8,"r":0.9},
{"p":"b4","x":-1.6,"b":28,"v":28,"g":8.0,"k":1.3,"r":1.0},
{"p":"b4","x":-1.55,"b":28,"v":28,"g":6.5,"k":0.8,"r":2.5},
{"p":"b4","x":-1.5,"b":20.0,"v":10.0,"g":4.5,"k":0.4,"r":1.5},
{"p":"b4","x":-1.45,"b":9.7,"v":5.5,"g":3.0,"k":0.4,"r":1.0},
{"p":"b4","x":-1.4,"b":14.0,"v":8.5,"g":6.0,"k":0.5,"r":0.8},
{"p":"b4","x":-1.35,"b":22.0,"v":13.0,"g":8.2,"k":0.7,"r":1.2},
{"p":"b4","x":-1.3,"b":28,"v":18.0,"g":6.0,"k":0.8,"r":1.5},
{"p":"b4","x":-1.25,"b":28,"v":21.0,"g":6.2,"k":0.6,"r":1.8},
{"p":"b4","x":-1.2,"b":20.0,"v":15.0,"g":6.5,"k":0.4,"r":2.0},
{"p":"b4","x":-1.15,"b":14.0,"v":9.0,"g":7.5,"k":0.3,"r":1.6},
{"p":"b4","x":-1.1,"b":10.3,"v":6.0,"g":8.7,"k":0.2,"r":1.3},
{"p":"b4","x":-1.05,"b":11.5,"v":5.5,"g":8.6,"k":0.2,"r":1.1},
{"p":"b4","x":-1.0,"b":13.5,"v":5.5,"g":8.5,"k":0.2,"r":1.0},
{"p":"b4","x":-0.9,"b":20.0,"v":9.0,"g":8.5,"k":0.2,"r":1.5},
{"p":"b4","x":-0.8,"b":17.0,"v":9.0,"g":8.0,"k":0.2,"r":1.0},
{"p":"b4","x":-0.7,"b":12.7,"v":6.5,"g":6.5,"k":0.2,"r":0.9},
{"p":"b4","x":-0.6,"b":13.5,"v":6.8,"g":4.5,"k":0.2,"r":0.8},
{"p":"b4","x":-0.5,"b":2.3,"v":1.0,"g":0.8,"k":0.2,"r":0.2},
{"p":"b4","x":-0.4,"b":1.7,"v":0.9,"g":0.4,"k":0.2,"r":0.2},
{"p":"b4","x":-0.3,"b":1.8,"v":0.9,"g":0.4,"k":0.2,"r":0.2},
{"p":"b4","x":-0.2,"b":1.7,"v":0.9,"g":0.4,"k":0.25,"r":0.2},
{"p":"b4","x":-0.1,"b":2.0,"v":0.95,"g":0.45,"k":0.3,"r":0.2},
{"p":"b4","x":0.0,"b":2.3,"v":1.0,"g":0.5,"k":0.4,"r":0.2},
{"p":"b4","x":0.1,"b":2.8,"v":1.1,"g":0.55,"k":0.5,"r":0.25},
{"p":"b4","x":0.2,"b":2.5,"v":1.2,"g":0.6,"k":0.6,"r":0.3},
{"p":"b4","x":0.3,"b":3.0,"v":1.3,"g":0.7,"k":0.7,"r":0.35},
{"p":"b4","x":0.4,"b":3.8,"v":1.5,"g":0.8,"k":0.9,"r":0.4},
{"p":"b4","x":0.5,"b":3.0,"v":1.7,"g":0.9,"k":1.2,"r":0.5},
{"p":"b4","x":0.6,"b":4.0,"v":2.0,"g":1.0,"k":1.6,"r":0.6},
{"p":"b4","x":0.7,"b":5.5,"v":2.6,"g":1.1,"k":2.0,"r":0.7},
{"p":"b4","x":0.8,"b":6.5,"v":3.5,"g":1.2,"k":2.5,"r":0.75},
{"p":"b4","x":0.9,"b":9.5,"v":3.8,"g":1.4,"k":3.0,"r":0.8},
{"p":"b4","x":1.0,"b":10.5,"v":4.0,"g":1.5,"k":3.5,"r":0.8},
{"p":"b4","x":1.1,"b":11.0,"v":5.5,"g":1.9,"k":5.0,"r":1.0},
{"p":"b4","x":1.2,"b":17.0,"v":6.8,"g":2.3,"k":6.5,"r":1.3},
{"p":"b4","x":1.3,"b":15.5,"v":6.0,"g":2.2,"k":6.0,"r":1.3},
{"p":"b4","x":1.4,"b":17.5,"v":6.0,"g":2.3,"k":6.0,"r":1.4},
{"p":"b4","x":1.5,"b":19.0,"v":7.0,"g":3.0,"k":6.8,"r":1.6},
{"p":"b4","x":1.6,"b":13.0,"v":5.0,"g":2.2,"k":5.0,"r":1.3},
{"p":"b4","x":1.7,"b":10.0,"v":3.5,"g":1.8,"k":3.0,"r":1.0},
{"p":"b4","x":1.8,"b":8.5,"v":2.5,"g":1.5,"k":2.0,"r":1.0},
{"p":"b4","x":1.9,"b":11.0,"v":3.0,"g":1.6,"k":2.5,"r":1.1},
{"p":"b4","x":2.0,"b":13.5,"v":4.5,"g":2.0,"k":3.5,"r":1.2},
{"p":"b4","x":2.1,"b":18.5,"v":6.5,"g":3.5,"k":6.0,"r":1.6},
{"p":"b4","x":2.15,"b":20.5,"v":7.3,"g":4.0,"k":7.0,"r":1.8},
{"p":"b4","x":2.2,"b":14.0,"v":5.5,"g":2.8,"k":4.0,"r":1.4},
{"p":"b4","x":2.3,"b":8.5,"v":3.5,"g":2.0,"k":2.5,"r":1.0},
{"p":"b4","x":2.4,"b":6.5,"v":2.5,"g":1.5,"k":1.5,"r":0.9},
{"p":"b4","x":2.5,"b":6.0,"v":2.0,"g":1.2,"k":1.5,"r":0.8},
{"p":"b4","x":2.6,"b":10.0,"v":4.0,"g":1.8,"k":3.0,"r":1.3},
{"p":"b4","x":2.7,"b":15.5,"v":6.5,"g":2.5,"k":4.3,"r":1.8},
{"p":"b4","x":2.8,"b":14.0,"v":5.0,"g":2.5,"k":3.5,"r":1.5},
{"p":"b4","x":2.9,"b":9.0,"v":3.0,"g":2.2,"k":2.5,"r":1.3},
{"p":"b4","x":3.0,"b":8.0,"v":2.8,"g":2.0,"k":2.0,"r":1.2},
{"p":"b6","x":-3.0,"b":17.0,"v":10.0,"g":5.0,"k":0.8,"r":0.9},
{"p":"b6","x":-2.9,"b":20.0,"v":10.5,"g":6.5,"k":0.8,"r":0.9},
{"p":"b6","x":-2.8,"b":19.8,"v":11.0,"g":7.0,"k":0.8,"r":1.0},
{"p":"b6","x":-2.7,"b":18.9,"v":11.5,"g":7.0,"k":0.8,"r":1.0},
{"p":"b6","x":-2.65,"b":20.0,"v":12.0,"g":7.5,"k":0.85,"r":1.0},
{"p":"b6","x":-2.6,"b":23.8,"v":13.0,"g":8.5,"k":0.9,"r":1.0},
{"p":"b6","x":-2.55,"b":21.3,"v":13.0,"g":8.6,"k":0.9,"r":1.0},
{"p":"b6","x":-2.5,"b":23.8,"v":13.0,"g":8.7,"k":0.9,"r":1.0},
{"p":"b6","x":-2.45,"b":19.5,"v":12.0,"g":7.5,"k":0.85,"r":1.0},
{"p":"b6","x":-2.4,"b":20.7,"v":11.0,"g":7.0,"k":0.8,"r":1.0},
{"p":"b6","x":-2.35,"b":19.8,"v":10.8,"g":7.3,"k":0.8,"r":1.0},
{"p":"b6","x":-2.3,"b":18.9,"v":10.5,"g":7.5,"k":0.75,"r":1.0},
{"p":"b6","x":-2.25,"b":17.0,"v":10.2,"g":7.0,"k":0.7,"r":0.95},
{"p":"b6","x":-2.2,"b":15.8,"v":10.0,"g":6.5,"k":0.7,"r":0.95},
{"p":"b6","x":-2.15,"b":14.6,"v":10.0,"g":6.2,"k":0.7,"r":0.9},
{"p":"b6","x":-2.1,"b":16.0,"v":10.0,"g":6.0,"k":0.75,"r":0.9},
{"p":"b6","x":-2.05,"b":17.0,"v":9.5,"g":5.2,"k":0.8,"r":0.9},
{"p":"b6","x":-2.0,"b":13.4,"v":9.0,"g":4.5,"k":0.8,"r":0.9},
{"p":"b6","x":-1.95,"b":10.3,"v":8.5,"g":5.0,"k":0.85,"r":1.0},
{"p":"b6","x":-1.9,"b":14.0,"v":8.0,"g":5.5,"k":0.9,"r":1.2},
{"p":"b6","x":-1.85,"b":20.0,"v":11.0,"g":7.0,"k":1.0,"r":1.4},
{"p":"b6","x":-1.8,"b":23.5,"v":14.5,"g":6.0,"k":1.0,"r":1.5},
{"p":"b6","x":-1.75,"b":14.0,"v":9.0,"g":4.0,"k":0.7,"r":1.0},
{"p":"b6","x":-1.7,"b":9.7,"v":6.0,"g":3.5,"k":0.5,"r":0.8},
{"p":"b6","x":-1.65,"b":20.0,"v":12.0,"g":6.0,"k":0.7,"r":1.0},
{"p":"b6","x":-1.6,"b":28,"v":28,"g":7.5,"k":1.0,"r":1.2},
{"p":"b6","x":-1.55,"b":28,"v":28,"g":6.0,"k":1.5,"r":1.8},
{"p":"b6","x":-1.5,"b":17.0,"v":11.0,"g":4.5,"k":2.0,"r":2.6},
{"p":"b6","x":-1.45,"b":14.6,"v":5.0,"g":3.0,"k":0.8,"r":1.5},
{"p":"b6","x":-1.4,"b":10.9,"v":9.0,"g":5.0,"k":0.5,"r":0.8},
{"p":"b6","x":-1.35,"b":22.0,"v":13.0,"g":6.5,"k":0.7,"r":1.0},
{"p":"b6","x":-1.3,"b":28,"v":17.0,"g":8.0,"k":1.0,"r":1.2},
{"p":"b6","x":-1.25,"b":28,"v":20.0,"g":6.0,"k":0.7,"r":1.8},
{"p":"b6","x":-1.2,"b":28,"v":22.0,"g":5.0,"k":0.3,"r":2.5},
{"p":"b6","x":-1.15,"b":20.0,"v":16.0,"g":7.0,"k":0.3,"r":2.0},
{"p":"b6","x":-1.1,"b":9.7,"v":8.0,"g":10.0,"k":0.3,"r":1.8},
{"p":"b6","x":-1.05,"b":25.0,"v":9.5,"g":10.5,"k":0.3,"r":2.0},
{"p":"b6","x":-1.0,"b":28,"v":11.0,"g":10.8,"k":0.3,"r":2.2},
{"p":"b6","x":-0.95,"b":22.0,"v":10.0,"g":10.5,"k":0.25,"r":2.0},
{"p":"b6","x":-0.9,"b":18.3,"v":9.0,"g":10.0,"k":0.25,"r":1.8},
{"p":"b6","x":-0.85,"b":20.1,"v":10.0,"g":9.0,"k":0.2,"r":1.7},
{"p":"b6","x":-0.8,"b":14.6,"v":11.5,"g":7.5,"k":0.2,"r":1.7},
{"p":"b6","x":-0.75,"b":16.4,"v":11.0,"g":7.0,"k":0.2,"r":1.6},
{"p":"b6","x":-0.7,"b":16.4,"v":10.5,"g":6.5,"k":0.2,"r":1.5},
{"p":"b6","x":-0.6,"b":2.3,"v":1.0,"g":0.7,"k":0.2,"r":0.2},
{"p":"b6","x":-0.5,"b":2.0,"v":0.9,"g":0.4,"k":0.2,"r":0.2},
{"p":"b6","x":-0.4,"b":2.2,"v":0.9,"g":0.4,"k":0.2,"r":0.2},
{"p":"b6","x":-0.3,"b":2.3,"v":0.95,"g":0.45,"k":0.25,"r":0.2},
{"p":"b6","x":-0.2,"b":2.6,"v":1.0,"g":0.45,"k":0.3,"r":0.2},
{"p":"b6","x":-0.1,"b":2.7,"v":1.1,"g":0.5,"k":0.4,"r":0.2},
{"p":"b6","x":0.0,"b":2.9,"v":1.2,"g":0.5,"k":0.5,"r":0.2},
{"p":"b6","x":0.1,"b":3.5,"v":1.35,"g":0.6,"k":0.6,"r":0.25},
{"p":"b6","x":0.2,"b":4.2,"v":1.5,"g":0.65,"k":0.7,"r":0.3},
{"p":"b6","x":0.3,"b":3.5,"v":1.7,"g":0.7,"k":0.85,"r":0.35},
{"p":"b6","x":0.4,"b":4.5,"v":2.0,"g":0.8,"k":1.0,"r":0.4},
{"p":"b6","x":0.5,"b":4.0,"v":2.2,"g":1.0,"k":1.5,"r":0.5},
{"p":"b6","x":0.6,"b":6.0,"v":2.5,"g":1.2,"k":2.0,"r":0.6},
{"p":"b6","x":0.7,"b":8.0,"v":3.2,"g":1.4,"k":2.5,"r":0.7},
{"p":"b6","x":0.8,"b":10.0,"v":4.0,"g":1.5,"k":3.0,"r":0.75},
{"p":"b6","x":0.9,"b":11.5,"v":4.4,"g":1.6,"k":3.5,"r":0.8},
{"p":"b6","x":1.0,"b":12.0,"v":4.8,"g":1.8,"k":4.0,"r":0.85},
{"p":"b6","x":1.1,"b":14.0,"v":5.2,"g":2.0,"k":4.8,"r":1.0},
{"p":"b6","x":1.2,"b":15.0,"v":5.5,"g":2.2,"k":5.5,"r":1.1},
{"p":"b6","x":1.3,"b":16.5,"v":6.0,"g":2.5,"k":6.2,"r":1.3},
{"p":"b6","x":1.4,"b":17.5,"v":6.5,"g":2.8,"k":6.8,"r":1.4},
{"p":"b6","x":1.5,"b":19.0,"v":7.0,"g":3.2,"k":7.0,"r":1.5},
{"p":"b6","x":1.6,"b":15.0,"v":5.5,"g":2.5,"k":5.5,"r":1.3},
{"p":"b6","x":1.7,"b":16.0,"v":4.5,"g":2.2,"k":4.5,"r":1.2},
{"p":"b6","x":1.8,"b":13.5,"v":4.0,"g":2.0,"k":3.5,"r":1.2},
{"p":"b6","x":1.9,"b":12.0,"v":4.5,"g":2.5,"k":4.5,"r":1.3},
{"p":"b6","x":2.0,"b":21.0,"v":7.0,"g":4.3,"k":7.5,"r":1.8},
{"p":"b6","x":2.1,"b":16.5,"v":4.5,"g":2.5,"k":5.0,"r":1.4},
{"p":"b6","x":2.2,"b":13.0,"v":3.5,"g":2.0,"k":3.0,"r":1.2},
{"p":"b6","x":2.3,"b":9.5,"v":3.0,"g":1.5,"k":2.0,"r":1.1},
{"p":"b6","x":2.4,"b":7.5,"v":2.5,"g":1.3,"k":1.8,"r":1.0},
{"p":"b6","x":2.5,"b":7.0,"v":2.8,"g":1.2,"k":1.8,"r":1.0},
{"p":"b6","x":2.6,"b":10.0,"v":4.0,"g":1.8,"k":2.5,"r":1.4},
{"p":"b6","x":2.7,"b":14.3,"v":6.0,"g":2.3,"k":3.0,"r":2.0},
{"p":"b6","x":2.8,"b":12.0,"v":5.0,"g":2.5,"k":2.5,"r":1.8},
{"p":"b6","x":2.9,"b":8.5,"v":3.0,"g":2.8,"k":2.5,"r":1.5},
{"p":"b6","x":3.0,"b":10.5,"v":4.5,"g":3.0,"k":2.0,"r":1.3}
]},
"vconcat":[
{"title":{"text":"(a)","anchor":"start","fontSize":14,"font":"Liberation Serif","fontWeight":"bold","dx":-23,"offset":-1},
"spacing":14,
"hconcat":[
{"width":148,"height":136,"layer":[
{"data":{"name":"d"},"transform":[{"filter":"datum.p=='a0'"},{"fold":["b","v","g","k","r"],"as":["s","y"]}],"mark":{"type":"line","clip":true,"strokeWidth":1.2},"encoding":{"x":{"field":"x","type":"quantitative","scale":{"domain":[-3,3],"nice":false},"axis":{"values":[-3,-2,-1,0,1,2,3],"tickCount":20,"labelExpr":"''+datum.value","labelOverlap":false,"title":null}},"y":{"field":"y","type":"quantitative","scale":{"domain":[0,25],"nice":false},"axis":{"values":[0,5,10,15,20,25],"tickCount":20,"labelOverlap":false,"title":"PODS(states/(eV.atom))"}},"color":{"field":"s","type":"nominal","scale":{"domain":["b","v","g","k","r"],"range":["#3c7fe8","#b58ae6","#21c821","#000000","#f01515"]},"legend":null}}},
{"data":{"values":[{"z":0}]},"mark":{"type":"rule","strokeDash":[5,4],"color":"#333","strokeWidth":1.2},"encoding":{"x":{"field":"z","type":"quantitative"}}},
{"data":{"values":[{"t":"0%"}]},"mark":{"type":"text","align":"right","baseline":"top","dx":-7,"dy":6,"fontSize":14,"fontWeight":"bold","font":"Liberation Serif","color":"#000"},"encoding":{"text":{"field":"t"},"x":{"datum":3},"y":{"datum":25}}}
]},
{"width":148,"height":136,"layer":[
{"data":{"name":"d"},"transform":[{"filter":"datum.p=='a2'"},{"fold":["b","v","g","k","r"],"as":["s","y"]}],"mark":{"type":"line","clip":true,"strokeWidth":1.2},"encoding":{"x":{"field":"x","type":"quantitative","scale":{"domain":[-3,3],"nice":false},"axis":{"values":[-3,-2,-1,0,1,2,3],"tickCount":20,"labelExpr":"''+datum.value","labelOverlap":false,"title":null}},"y":{"field":"y","type":"quantitative","scale":{"domain":[0,25],"nice":false},"axis":{"values":[0,5,10,15,20,25],"tickCount":20,"labelOverlap":false,"title":null}},"color":{"field":"s","type":"nominal","scale":{"domain":["b","v","g","k","r"],"range":["#3c7fe8","#b58ae6","#21c821","#000000","#f01515"]},"legend":null}}},
{"data":{"values":[{"z":0}]},"mark":{"type":"rule","strokeDash":[5,4],"color":"#333","strokeWidth":1.2},"encoding":{"x":{"field":"z","type":"quantitative"}}},
{"data":{"values":[{"t":"2%"}]},"mark":{"type":"text","align":"right","baseline":"top","dx":-7,"dy":6,"fontSize":14,"fontWeight":"bold","font":"Liberation Serif","color":"#000"},"encoding":{"text":{"field":"t"},"x":{"datum":3},"y":{"datum":25}}}
]},
{"width":148,"height":136,"layer":[
{"data":{"name":"d"},"transform":[{"filter":"datum.p=='a4'"},{"fold":["b","v","g","k","r"],"as":["s","y"]}],"mark":{"type":"line","clip":true,"strokeWidth":1.2},"encoding":{"x":{"field":"x","type":"quantitative","scale":{"domain":[-3,3],"nice":false},"axis":{"values":[-3,-2,-1,0,1,2,3],"tickCount":20,"labelExpr":"''+datum.value","labelOverlap":false,"title":null}},"y":{"field":"y","type":"quantitative","scale":{"domain":[0,25],"nice":false},"axis":{"values":[0,5,10,15,20,25],"tickCount":20,"labelOverlap":false,"title":null}},"color":{"field":"s","type":"nominal","scale":{"domain":["b","v","g","k","r"],"range":["#3c7fe8","#b58ae6","#21c821","#000000","#f01515"]},"legend":null}}},
{"data":{"values":[{"z":0}]},"mark":{"type":"rule","strokeDash":[5,4],"color":"#333","strokeWidth":1.2},"encoding":{"x":{"field":"z","type":"quantitative"}}},
{"data":{"values":[{"t":"4%"}]},"mark":{"type":"text","align":"right","baseline":"top","dx":-7,"dy":6,"fontSize":14,"fontWeight":"bold","font":"Liberation Serif","color":"#000"},"encoding":{"text":{"field":"t"},"x":{"datum":3},"y":{"datum":25}}}
]},
{"width":148,"height":136,"layer":[
{"data":{"name":"d"},"transform":[{"filter":"datum.p=='a6'"},{"fold":["b","v","g","k","r"],"as":["s","y"]}],"mark":{"type":"line","clip":true,"strokeWidth":1.2},"encoding":{"x":{"field":"x","type":"quantitative","scale":{"domain":[-3,3],"nice":false},"axis":{"values":[-3,-2,-1,0,1,2,3],"tickCount":20,"labelExpr":"''+datum.value","labelOverlap":false,"title":null}},"y":{"field":"y","type":"quantitative","scale":{"domain":[0,25],"nice":false},"axis":{"values":[0,5,10,15,20,25],"tickCount":20,"labelOverlap":false,"title":null}},"color":{"field":"s","type":"nominal","scale":{"domain":["b","v","g","k","r"],"range":["#3c7fe8","#b58ae6","#21c821","#000000","#f01515"]},"legend":null}}},
{"data":{"values":[{"z":0}]},"mark":{"type":"rule","strokeDash":[5,4],"color":"#333","strokeWidth":1.2},"encoding":{"x":{"field":"z","type":"quantitative"}}},
{"data":{"values":[{"t":"6%"}]},"mark":{"type":"text","align":"right","baseline":"top","dx":-7,"dy":6,"fontSize":14,"fontWeight":"bold","font":"Liberation Serif","color":"#000"},"encoding":{"text":{"field":"t"},"x":{"datum":3},"y":{"datum":25}}}
]}
]},
{"title":{"text":"(b)","anchor":"start","fontSize":14,"font":"Liberation Serif","fontWeight":"bold","dx":-23,"offset":-1},
"spacing":14,
"hconcat":[
{"width":148,"height":136,"layer":[
{"data":{"name":"d"},"transform":[{"filter":"datum.p=='b0'"},{"fold":["b","v","g","k","r"],"as":["s","y"]}],"mark":{"type":"line","clip":true,"strokeWidth":1.2},"encoding":{"x":{"field":"x","type":"quantitative","scale":{"domain":[-3,3],"nice":false},"axis":{"values":[-3,-2,-1,0,1,2,3],"tickCount":20,"labelExpr":"''+datum.value","labelOverlap":false,"title":"E-Ef（eV）"}},"y":{"field":"y","type":"quantitative","scale":{"domain":[0,25],"nice":false},"axis":{"values":[0,5,10,15,20,25],"tickCount":20,"labelOverlap":false,"title":"PODS(states/(eV.atom))"}},"color":{"field":"s","type":"nominal","scale":{"domain":["b","v","g","k","r"],"range":["#3c7fe8","#b58ae6","#21c821","#000000","#f01515"]},"legend":null}}},
{"data":{"values":[{"z":0}]},"mark":{"type":"rule","strokeDash":[5,4],"color":"#333","strokeWidth":1.2},"encoding":{"x":{"field":"z","type":"quantitative"}}},
{"data":{"values":[{"t":"0%"}]},"mark":{"type":"text","align":"right","baseline":"top","dx":-7,"dy":6,"fontSize":14,"fontWeight":"bold","font":"Liberation Serif","color":"#000"},"encoding":{"text":{"field":"t"},"x":{"datum":3},"y":{"datum":25}}}
]},
{"width":148,"height":136,"layer":[
{"data":{"name":"d"},"transform":[{"filter":"datum.p=='b2'"},{"fold":["b","v","g","k","r"],"as":["s","y"]}],"mark":{"type":"line","clip":true,"strokeWidth":1.2},"encoding":{"x":{"field":"x","type":"quantitative","scale":{"domain":[-3,3],"nice":false},"axis":{"values":[-3,-2,-1,0,1,2,3],"tickCount":20,"labelExpr":"''+datum.value","labelOverlap":false,"title":"E-Ef（eV）"}},"y":{"field":"y","type":"quantitative","scale":{"domain":[0,25],"nice":false},"axis":{"values":[0,5,10,15,20,25],"tickCount":20,"labelOverlap":false,"title":null}},"color":{"field":"s","type":"nominal","scale":{"domain":["b","v","g","k","r"],"range":["#3c7fe8","#b58ae6","#21c821","#000000","#f01515"]},"legend":null}}},
{"data":{"values":[{"z":0}]},"mark":{"type":"rule","strokeDash":[5,4],"color":"#333","strokeWidth":1.2},"encoding":{"x":{"field":"z","type":"quantitative"}}},
{"data":{"values":[{"t":"2%"}]},"mark":{"type":"text","align":"right","baseline":"top","dx":-7,"dy":6,"fontSize":14,"fontWeight":"bold","font":"Liberation Serif","color":"#000"},"encoding":{"text":{"field":"t"},"x":{"datum":3},"y":{"datum":25}}}
]},
{"width":148,"height":136,"layer":[
{"data":{"name":"d"},"transform":[{"filter":"datum.p=='b4'"},{"fold":["b","v","g","k","r"],"as":["s","y"]}],"mark":{"type":"line","clip":true,"strokeWidth":1.2},"encoding":{"x":{"field":"x","type":"quantitative","scale":{"domain":[-3,3],"nice":false},"axis":{"values":[-3,-2,-1,0,1,2,3],"tickCount":20,"labelExpr":"''+datum.value","labelOverlap":false,"title":"E-Ef（eV）"}},"y":{"field":"y","type":"quantitative","scale":{"domain":[0,25],"nice":false},"axis":{"values":[0,5,10,15,20,25],"tickCount":20,"labelOverlap":false,"title":null}},"color":{"field":"s","type":"nominal","scale":{"domain":["b","v","g","k","r"],"range":["#3c7fe8","#b58ae6","#21c821","#000000","#f01515"]},"legend":null}}},
{"data":{"values":[{"z":0}]},"mark":{"type":"rule","strokeDash":[5,4],"color":"#333","strokeWidth":1.2},"encoding":{"x":{"field":"z","type":"quantitative"}}},
{"data":{"values":[{"t":"4%"}]},"mark":{"type":"text","align":"right","baseline":"top","dx":-7,"dy":6,"fontSize":14,"fontWeight":"bold","font":"Liberation Serif","color":"#000"},"encoding":{"text":{"field":"t"},"x":{"datum":3},"y":{"datum":25}}}
]},
{"width":148,"height":136,"layer":[
{"data":{"name":"d"},"transform":[{"filter":"datum.p=='b6'"},{"fold":["b","v","g","k","r"],"as":["s","y"]}],"mark":{"type":"line","clip":true,"strokeWidth":1.2},"encoding":{"x":{"field":"x","type":"quantitative","scale":{"domain":[-3,3],"nice":false},"axis":{"values":[-3,-2,-1,0,1,2,3],"tickCount":20,"labelExpr":"''+datum.value","labelOverlap":false,"title":"E-Ef（eV）"}},"y":{"field":"y","type":"quantitative","scale":{"domain":[0,25],"nice":false},"axis":{"values":[0,5,10,15,20,25],"tickCount":20,"labelOverlap":false,"title":null}},"color":{"field":"s","type":"nominal","scale":{"domain":["b","v","g","k","r"],"range":["#3c7fe8","#b58ae6","#21c821","#000000","#f01515"]},"legend":null}}},
{"data":{"values":[{"z":0}]},"mark":{"type":"rule","strokeDash":[5,4],"color":"#333","strokeWidth":1.2},"encoding":{"x":{"field":"z","type":"quantitative"}}},
{"data":{"values":[{"t":"6%"}]},"mark":{"type":"text","align":"right","baseline":"top","dx":-7,"dy":6,"fontSize":14,"fontWeight":"bold","font":"Liberation Serif","color":"#000"},"encoding":{"text":{"field":"t"},"x":{"datum":3},"y":{"datum":25}}}
]}
]}
]
}
